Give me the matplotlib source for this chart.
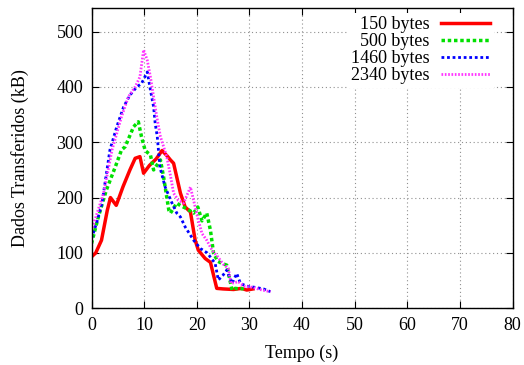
import matplotlib
matplotlib.use("Agg")
import matplotlib.pyplot as plt

plt.rcParams['font.family'] = ['Liberation Serif', 'DejaVu Serif']
plt.rcParams['font.size'] = 11

# 150 bytes
t150 = [0, 0.8, 1.9, 3.0, 3.6, 4.7, 6.0, 7.3, 8.3, 9.2, 9.9, 11.0, 12.3, 13.4, 14.4,
        15.0, 15.6, 16.9, 17.8, 18.8, 19.7, 20.3, 21.6, 22.6, 23.8, 25.0, 27.0, 28.5,
        29.5, 30.7]
v150 = [93, 100, 123, 177, 200, 186, 220, 250, 271, 274, 244, 258, 270, 285, 275,
        268, 262, 208, 183, 174, 123, 105, 90, 83, 36, 35, 34, 36, 33, 35]

# 500 bytes
t500 = [0, 1.3, 2.8, 4.5, 5.7, 6.4, 8.0, 8.9, 9.5, 10.2, 11.2, 11.8, 13.1, 13.7,
        14.7, 15.0, 16.2, 17.0, 18.1, 19.4, 20.2, 21.0, 21.9, 22.6, 23.2, 24.0,
        24.8, 25.7, 26.7, 27.3, 28.2, 29.2]
v500 = [117, 165, 213, 255, 286, 292, 328, 337, 310, 285, 277, 250, 268, 237,
        177, 172, 190, 185, 180, 172, 183, 158, 172, 141, 99, 85,
        81, 78, 33, 36, 35, 36]

# 1460 bytes
t1460 = [0, 1.0, 2.0, 3.5, 4.8, 6.1, 7.3, 8.6, 9.5, 10.6, 11.2, 11.8, 12.1, 12.5,
         13.0, 14.0, 15.3, 16.2, 16.9, 17.8, 19.4, 20.7, 22.0, 23.5, 24.1, 25.0,
         25.7, 26.7, 27.6, 28.3, 29.5, 31.0, 32.7, 34.0]
v1460 = [126, 155, 190, 286, 328, 364, 385, 400, 406, 427, 394, 364, 334, 310,
         255, 219, 190, 172, 165, 147, 123, 108, 100, 81, 51, 60,
         69, 45, 63, 45, 40, 38, 35, 30]

# 2340 bytes
t2340 = [0, 1.0, 2.3, 3.9, 5.7, 7.0, 8.3, 9.2, 9.9, 10.6, 11.2, 11.8, 12.4, 13.1,
         13.7, 14.3, 15.0, 15.6, 16.5, 17.5, 18.8, 19.4, 20.3, 21.0, 21.9, 22.9,
         24.0, 25.0, 26.0, 26.5, 27.9, 29.0, 30.5, 32.4, 34.0]
v2340 = [140, 170, 208, 286, 346, 382, 400, 418, 467, 448, 418, 382, 346, 310,
         292, 274, 240, 208, 195, 190, 219, 195, 159, 135, 123, 105,
         93, 80, 72, 45, 48, 40, 38, 33, 30]

labels = ['150 bytes', '500 bytes', '1460 bytes', '2340 bytes']
xticks = [0, 10, 20, 30, 40, 50, 60, 70, 80]
yticks = [0, 100, 200, 300, 400, 500]

fig = plt.figure(figsize=(5.24, 3.65), dpi=100)
ax = fig.add_axes([91.5/524, 1-308.3/365, 421/524, 300/365])

ax.plot(t150, v150, color='#ff0000', lw=2.5, ls='-', label=labels[0])
ax.plot(t500, v500, color='#00e000', lw=2.5, ls=(0, (1, 0.8)), label=labels[1])
ax.plot(t1460, v1460, color='#0000ff', lw=2.0, ls=(0, (1, 1)), label=labels[2])
ax.plot(t2340, v2340, color='#ff33ff', lw=2.0, ls=(0, (0.6, 0.6)), label=labels[3])

ax.set_xlim(0, 80)
ax.set_ylim(0, 542)
ax.set_xticks(xticks)
ax.set_yticks(yticks)
ax.grid(True, color='#909090', ls=(0, (1, 2.5)), lw=0.8)
ax.tick_params(direction='in', top=True, right=True, length=5, width=0.8,
               labelsize=13, pad=6)
for s in ax.spines.values():
    s.set_linewidth(1.0)

ax.set_xlabel('Tempo (s)', fontsize=13, labelpad=8)
ax.set_ylabel('Dados Transferidos (kB)', fontsize=13, labelpad=20)

leg = ax.legend(loc='upper right', bbox_to_anchor=(0.955, 0.985), markerfirst=False,
                frameon=True, fancybox=False, edgecolor='none', facecolor='white',
                framealpha=1, fontsize=13, handlelength=2.7, handletextpad=0.65,
                labelspacing=0.0, borderpad=0.2, borderaxespad=0)

fig.savefig('out.png', dpi=100)
